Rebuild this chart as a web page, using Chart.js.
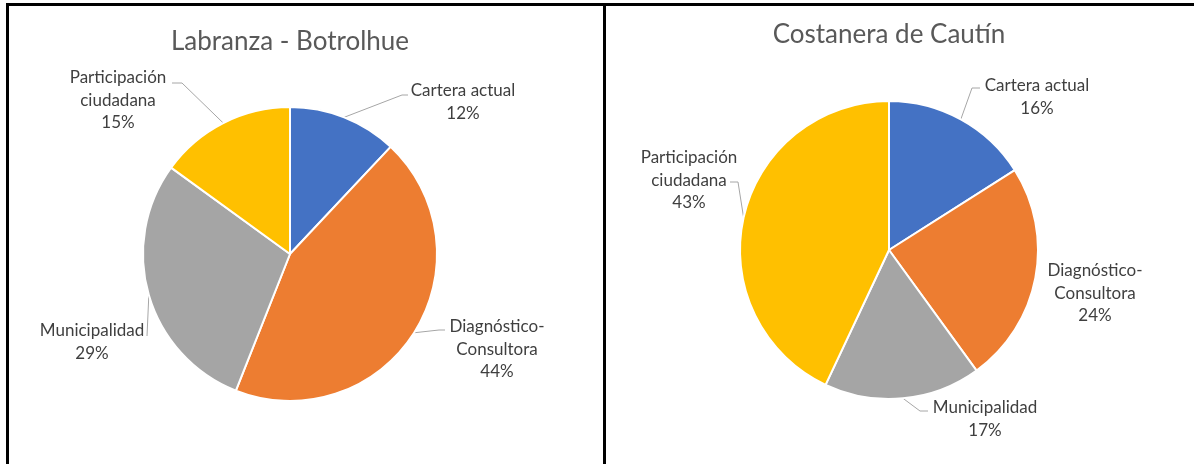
<!DOCTYPE html>
<html>
<head>
<meta charset="utf-8">
<script src="https://cdn.jsdelivr.net/npm/chart.js@4.4.1/dist/chart.umd.min.js"></script>
<style>
  body { margin: 0; background: #fff; width: 1194px; height: 464px; overflow: hidden; position: relative; }
  .line { position: absolute; background: #000; }
  .panel { position: absolute; top: 6px; height: 458px; }
</style>
</head>
<body>
<div class="line" style="left:6px;top:3px;width:1188px;height:3px"></div>
<div class="line" style="left:6px;top:3px;width:3px;height:461px"></div>
<div class="line" style="left:603px;top:3px;width:3px;height:461px"></div>
<div class="panel" style="left:9px;width:594px"><canvas id="left" width="594" height="458"></canvas></div>
<div class="panel" style="left:606px;width:588px"><canvas id="right" width="588" height="458"></canvas></div>
<script>
// categories and values
const categories = ['Cartera actual', 'Diagnóstico-Consultora', 'Municipalidad', 'Participación ciudadana']
const labelLines = [['Cartera actual'], ['Diagnóstico-', 'Consultora'], ['Municipalidad'], ['Participación', 'ciudadana']]
const labranzaValues = [12, 44, 29, 15]
const cautinValues = [16, 24, 17, 43]
const colors = ['#4472C4', '#ED7D31', '#A5A5A5', '#FFC000']

// label placement, relative to pie centre: [labelX, firstLineY, anchorX, anchorY, knee]
const labranzaLabelPos = [
  [173, -163, 118, -159, -6],
  [207, 73, 155, 76, -6],
  [-198, 77, -143, 82, 0],
  [-172, -176, -118, -171, 10]
]
const cautinLabelPos = [
  [148, -164, 91, -162, -8],
  [206, 21, null, null, 0],
  [96, 158, 39, 161, -8],
  [-200, -92, -159, -68, 8]
]

const FONT = 'Lato, "Open Sans", sans-serif'

const pieLabels = {
  id: 'pieLabels',
  beforeDatasetsDraw(chart) {
    const ctx = chart.ctx
    const cfg = chart.options.plugins.pieLabels
    const arcs = chart.getDatasetMeta(0).data
    ctx.save()
    ctx.strokeStyle = '#A6A6A6'
    ctx.lineWidth = 1
    arcs.forEach((arc, i) => {
      const p = cfg.pos[i]
      if (p[2] === null) return
      const mid = (arc.startAngle + arc.endAngle) / 2
      const ex = arc.x + Math.cos(mid) * arc.outerRadius
      const ey = arc.y + Math.sin(mid) * arc.outerRadius
      const ax = arc.x + p[2], ay = arc.y + p[3]
      ctx.beginPath()
      ctx.moveTo(ex, ey)
      ctx.lineTo(ax + p[4], ay)
      ctx.lineTo(ax, ay)
      ctx.stroke()
    })
    ctx.restore()
  },
  afterDraw(chart) {
    const ctx = chart.ctx
    const cfg = chart.options.plugins.pieLabels
    const arcs = chart.getDatasetMeta(0).data
    const values = chart.data.datasets[0].data
    const total = values.reduce((a, b) => a + b, 0)
    ctx.save()
    ctx.textAlign = 'center'
    ctx.textBaseline = 'middle'
    ctx.fillStyle = '#595959'
    ctx.font = '26px ' + FONT
    ctx.fillText(cfg.title, arcs[0].x, cfg.titleY)
    ctx.fillStyle = '#3f3f3f'
    ctx.font = '17px ' + FONT
    arcs.forEach((arc, i) => {
      const p = cfg.pos[i]
      const lines = labelLines[i].concat([Math.round(values[i] / total * 100) + '%'])
      lines.forEach((t, j) => ctx.fillText(t, arc.x + p[0], arc.y + p[1] + j * 22.5))
    })
    ctx.restore()
  }
}

function makePie(id, values, title, titleY, pos, padding) {
  return new Chart(document.getElementById(id), {
    type: 'pie',
    data: {
      labels: categories,
      datasets: [{
        data: values,
        backgroundColor: colors,
        borderColor: '#ffffff',
        borderWidth: 2
      }]
    },
    options: {
      responsive: false,
      animation: false,
      layout: { padding: padding },
      plugins: {
        legend: { display: false },
        tooltip: { enabled: false },
        title: { display: false },
        pieLabels: { title: title, titleY: titleY, pos: pos }
      }
    },
    plugins: [pieLabels]
  })
}

makePie('left', labranzaValues, 'Labranza - Botrolhue', 36, labranzaLabelPos,
  { left: 133, right: 165, top: 100, bottom: 62 })
makePie('right', cautinValues, 'Costanera de Cautín', 29, cautinLabelPos,
  { left: 133, right: 155, top: 94, bottom: 64 })
</script>
</body>
</html>
